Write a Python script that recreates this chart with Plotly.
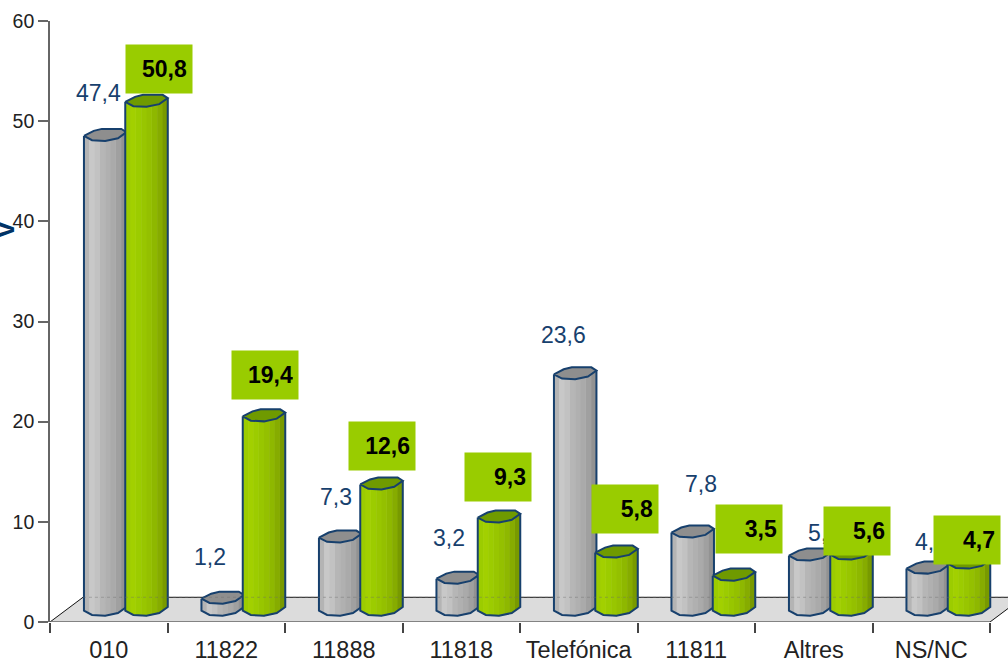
import numpy as np
import plotly.graph_objects as go

categories = ["010", "11822", "11888", "11818", "Telefónica", "11811", "Altres", "NS/NC"]
series_grey = [47.4, 1.2, 7.3, 3.2, 23.6, 7.8, 5.5, 4.2]
series_green = [50.8, 19.4, 12.6, 9.3, 5.8, 3.5, 5.6, 4.7]
y_ticks = [0, 10, 20, 30, 40, 50, 60]

# label offsets in pixels, relative to the top of each bar
grey_offsets = [(-7, 54), (-13, 53), (-4, 52), (-9, 52), (-12, 51), (8, 60), (14, 34), (3, 38)]
green_offsets = [(12, 44), (1, 53), (0, 50), (-1, 52), (8, 55), (15, 58), (5, 35), (-2, 35)]

PX_X = 117.5        # pixels per category
PX_Y = 600.7 / 60   # pixels per value unit
X_MAX = 958 / PX_X
DEPTH_X = 33 / PX_X
DEPTH_Y = 24.7 / PX_Y
BASE = 0.7
BAR_W = 42.5 / PX_X
SHIFT = 16.5 / PX_X
GREY_NUDGE = 1.2 / PX_X
NAVY = "#17406D"

GREY_BANDS = ["#b4b4b4", "#c8c8c8", "#c2c2c2", "#b6b6b6", "#b0b0b0", "#aaaaaa", "#a0a0a0", "#929292"]
GREEN_BANDS = ["#9ccc00", "#a2d000", "#9ccc00", "#98c600", "#94c000", "#8eb800", "#86ac00", "#789a00"]
GREY_TOP, GREEN_TOP = "#8e8e8e", "#6f9a00"

# cylinder cross-section: (fraction of width, px above the front point)
FRONT_T = [0.0, 0.19, 0.5, 0.8, 1.0]
FRONT_D = [4.3, 0.0, -0.7, 2.0, 8.0]
BACK_T = [1.0, 0.88, 0.42, 0.23, 0.0]
BACK_D = [8.0, 11.3, 11.3, 9.3, 4.3]


def front(t):
    return np.interp(t, FRONT_T, FRONT_D) / PX_Y


def add_cylinders(fig, centers, values, bands, top_color):
    edges = np.linspace(0, 1, len(bands) + 1)
    for k, col in enumerate(bands):
        xs, ys = [], []
        ts = np.linspace(edges[k], edges[k + 1], 5)
        for c, v in zip(centers, values):
            x = c - BAR_W / 2 + ts * BAR_W
            xs += list(x) + list(x[::-1]) + [None]
            ys += list(v + BASE + front(ts)) + list(BASE + front(ts[::-1])) + [None]
        fig.add_trace(go.Scatter(x=xs, y=ys, mode="lines", fill="toself", fillcolor=col,
                                 line=dict(width=1, color=col), hoverinfo="skip"))
    tx, ty, ox, oy = [], [], [], []
    ft = np.array(FRONT_T)
    bt = np.array(BACK_T)
    for c, v in zip(centers, values):
        x0 = c - BAR_W / 2
        px = list(x0 + ft * BAR_W) + list(x0 + bt * BAR_W)
        py = list(v + BASE + front(ft)) + list(v + BASE + np.array(BACK_D) / PX_Y)
        tx += px + [None]
        ty += py + [None]
        ox += px + [None]
        oy += py + [None]
        # body outline: left side, bottom, right side
        ox += [x0] + list(x0 + ft * BAR_W) + [x0 + BAR_W, None]
        oy += [v + BASE + front(0.0)] + list(BASE + front(ft)) + [v + BASE + front(1.0), None]
    fig.add_trace(go.Scatter(x=tx, y=ty, mode="lines", fill="toself", fillcolor=top_color,
                             line=dict(width=0, color=top_color), hoverinfo="skip"))
    fig.add_trace(go.Scatter(x=ox, y=oy, mode="lines", line=dict(width=2, color=NAVY),
                             hoverinfo="skip"))


fig = go.Figure()

# floor
fig.add_trace(go.Scatter(x=[0, DEPTH_X, 8 + DEPTH_X, 8, 0], y=[0, DEPTH_Y, DEPTH_Y, 0, 0],
                         mode="lines", fill="toself", fillcolor="#dcdcdc", line=dict(width=0),
                         hoverinfo="skip"))
fig.add_trace(go.Scatter(x=[0, DEPTH_X, 8 + DEPTH_X, None, 8, 8 + DEPTH_X],
                         y=[0, DEPTH_Y, DEPTH_Y, None, 0, DEPTH_Y],
                         mode="lines", line=dict(width=1, color="#111111"), hoverinfo="skip"))

idx = np.arange(len(categories))
grey_x = idx + 0.5 + SHIFT - BAR_W / 2 + GREY_NUDGE
green_x = idx + 0.5 + SHIFT + BAR_W / 2
add_cylinders(fig, grey_x, series_grey, GREY_BANDS, GREY_TOP)
add_cylinders(fig, green_x, series_green, GREEN_BANDS, GREEN_TOP)

# faint floor line seen through the bars
fig.add_trace(go.Scatter(x=[DEPTH_X, 8 + DEPTH_X], y=[DEPTH_Y, DEPTH_Y], mode="lines",
                         line=dict(width=1, color="rgba(110,110,110,0.4)", dash="dot"),
                         hoverinfo="skip"))
# front axis line
fig.add_trace(go.Scatter(x=[0, 8], y=[0, 0], mode="lines", cliponaxis=False,
                         line=dict(width=1.6, color="#666666"), hoverinfo="skip"))


def fmt(v):
    return f"{v:.1f}".replace(".", ",")


annotations = []
for x, v, (dx, dy) in zip(grey_x, series_grey, grey_offsets):
    annotations.append(dict(x=x, y=v, xref="x", yref="y", text=fmt(v), showarrow=False,
                            xshift=dx, yshift=dy, xanchor="center", yanchor="middle",
                            font=dict(family="Liberation Sans", size=23, color=NAVY)))
for x, v, (dx, dy) in zip(green_x, series_green, green_offsets):
    annotations.append(dict(x=x, y=v, xref="x", yref="y", text=f"<b>{fmt(v)}</b>", showarrow=False,
                            xshift=dx, yshift=dy, xanchor="center", yanchor="middle",
                            width=56, height=38, borderpad=5, align="right", valign="middle",
                            bgcolor="#99CC00",
                            font=dict(family="Liberation Sans", size=23, color="#000000")))
annotations.append(dict(x=-50 / 958, y=(621.7 - 230) / 600.7, xref="paper", yref="paper", text="<b>V</b>",
                        showarrow=False, textangle=-90, xanchor="center", yanchor="middle",
                        xshift=4, font=dict(family="Liberation Sans", size=28, color="#003366")))

fig.update_layout(
    template="none",
    width=1008, height=664, autosize=False,
    margin=dict(l=50, r=0, t=21, b=42),
    paper_bgcolor="white", plot_bgcolor="white",
    showlegend=False, annotations=annotations,
    xaxis=dict(range=[0, X_MAX], tickmode="array", tickvals=list(idx + 0.5), ticktext=categories,
               automargin=False,
               ticks="outside", ticklen=7, tickcolor="rgba(0,0,0,0)", showgrid=False, zeroline=False,
               showline=False, fixedrange=True,
               tickfont=dict(family="Liberation Sans", size=23.5, color="#222222"),
               minor=dict(ticks="outside", tick0=0, dtick=1, ticklen=10, tickwidth=1.5,
                          tickcolor="#444444", showgrid=False)),
    yaxis=dict(range=[0, 60], tickmode="array", tickvals=y_ticks, ticks="outside", ticklen=10,
               automargin=False,
               tickwidth=1.5, tickcolor="#666666", showgrid=False, zeroline=False, showline=True,
               linecolor="#666666", linewidth=1.6, fixedrange=True,
               tickfont=dict(family="Liberation Sans", size=19.5, color="#222222")),
)

fig.write_html("out.html", config=dict(displayModeBar=False),
               post_script="document.body.style.margin='0';document.body.style.overflow='hidden';")
